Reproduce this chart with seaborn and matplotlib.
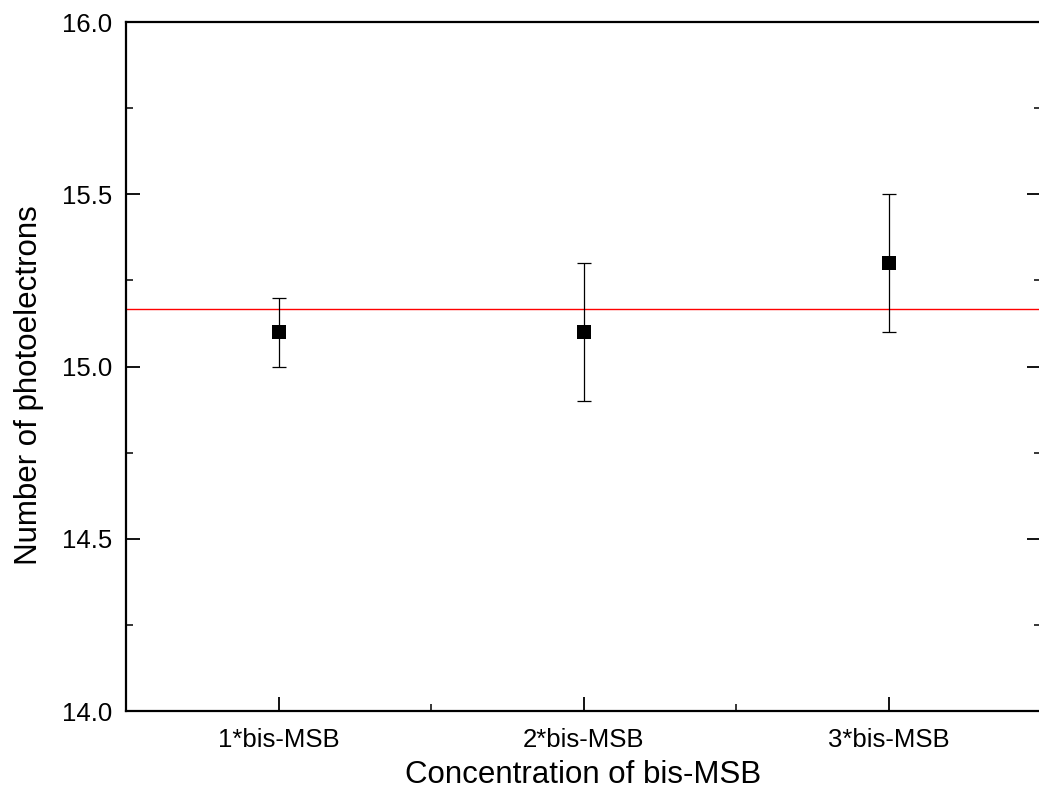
import numpy as np
import pandas as pd
import matplotlib
matplotlib.use("Agg")
import matplotlib.pyplot as plt
import seaborn as sns
from matplotlib.ticker import MultipleLocator, FormatStrFormatter

# Photoelectron yield vs. bis-MSB concentration
categories = ["1*bis-MSB", "2*bis-MSB", "3*bis-MSB"]
positions = [1, 2, 3]
photoelectrons = [15.1, 15.1, 15.3]
errors = [0.1, 0.2, 0.2]

df = pd.DataFrame({"pos": positions, "npe": photoelectrons, "err": errors})
mean_npe = float(np.mean(photoelectrons))

sns.set_theme(style="white")
plt.rcParams["font.family"] = ["Liberation Sans", "DejaVu Sans"]
plt.rcParams["text.color"] = "black"
plt.rcParams["axes.labelcolor"] = "black"

fig = plt.figure(figsize=(10.39, 8.05), dpi=100)
ax = fig.add_axes([126 / 1039, 94 / 805, 915 / 1039, 689 / 805])

ax.axhline(mean_npe, color="red", lw=1.0, zorder=1)
ax.errorbar(df["pos"], df["npe"], yerr=df["err"], fmt="none",
            ecolor="black", elinewidth=0.9, capsize=5, capthick=0.9, zorder=2)
sns.scatterplot(data=df, x="pos", y="npe", marker="s", s=110, color="black",
                edgecolor="black", linewidth=0, ax=ax, zorder=3, legend=False)

ax.set_xlim(0.5, 3.5)
ax.set_ylim(14.0, 16.0)
ax.set_xticks(positions)
ax.set_xticklabels(categories)
ax.xaxis.set_minor_locator(MultipleLocator(0.5))
ax.yaxis.set_major_locator(MultipleLocator(0.5))
ax.yaxis.set_minor_locator(MultipleLocator(0.25))
ax.yaxis.set_major_formatter(FormatStrFormatter("%.1f"))

for s in ax.spines.values():
    s.set_visible(True)
    s.set_color("black")
    s.set_linewidth(1.6)

ax.tick_params(which="major", direction="in", length=10, width=1.3,
               labelsize=18.5, colors="black",
               top=False, right=True, left=True, bottom=True)
ax.tick_params(which="minor", direction="in", length=5, width=1.3,
               top=False, right=True, left=True, bottom=True)
ax.tick_params(axis="y", which="major", pad=10)
ax.tick_params(axis="x", which="major", pad=12)

ax.set_xlabel("Concentration of bis-MSB", fontsize=22.5, labelpad=6)
ax.set_ylabel("Number of photoelectrons", fontsize=22.5)
ax.yaxis.set_label_coords(-0.09, 0.473)

fig.savefig("out.png", dpi=100, facecolor="white")
